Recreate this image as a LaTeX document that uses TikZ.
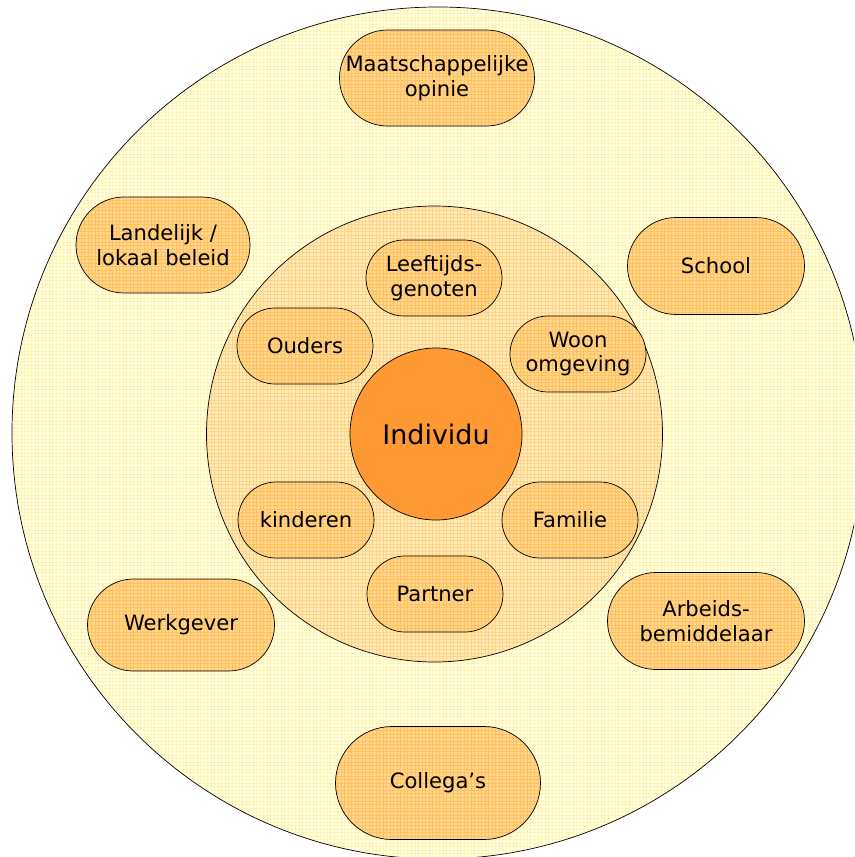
\documentclass[tikz,border=0pt]{standalone}
\usepackage{fontspec}
\setmainfont{DejaVu Sans}
\usepackage{xcolor}
\usetikzlibrary{shapes.misc,patterns}

\definecolor{outerfill}{HTML}{FFFFE2}
\definecolor{outergrid}{HTML}{FFF3B8}
\definecolor{innerfill}{HTML}{FFEBB8}
\definecolor{innergrid}{HTML}{FFD488}
\definecolor{pillfill}{HTML}{FFD690}
\definecolor{pillgrid}{HTML}{FFC25E}
\definecolor{corefill}{HTML}{FF9933}

\tikzset{
    ring/.style={circle, draw=black, line width=0.6pt, inner sep=0pt},
    pill/.style={rounded rectangle, draw=black, line width=0.6pt, align=center,
        preaction={fill=pillfill}, pattern=grid, pattern color=pillgrid,
        font=\fontsize{18}{21}\selectfont, inner sep=0pt},
    small/.style={pill, minimum width=4.08cm, minimum height=2.28cm}
}

\begin{document}
\begin{tikzpicture}[x=0.03cm, y=-0.03cm]
    \useasboundingbox (0,0) rectangle (854,857);
    \clip (0,0) rectangle (854,857);

    % Rings
    \node[ring, minimum size=25.56cm, preaction={fill=outerfill},
        pattern=grid, pattern color=outergrid] (outer) at (438,433) {};
    \node[ring, minimum size=13.68cm, preaction={fill=innerfill},
        pattern=grid, pattern color=innergrid] (inner) at (434.5,434) {};
    \node[ring, minimum size=5.16cm, fill=corefill,
        font=\fontsize{23}{27}\selectfont] (individu) at (436,434) {Individu};

    % Outer ring
    \node[pill, minimum width=5.85cm, minimum height=2.88cm] (opinie) at (437,78) {Maatschappelijke\\opinie};
    \node[pill, minimum width=5.22cm, minimum height=2.88cm] (beleid) at (163,245) {Landelijk /\\lokaal beleid};
    \node[pill, minimum width=5.31cm, minimum height=2.91cm] (school) at (716,266) {School};
    \node[pill, minimum width=5.61cm, minimum height=2.76cm] (werkgever) at (181,625) {Werkgever};
    \node[pill, minimum width=5.91cm, minimum height=2.91cm] (arbeid) at (706,621) {Arbeids-\\bemiddelaar};
    \node[pill, minimum width=6.15cm, minimum height=3.39cm] (collegas) at (438,783) {Collega’s};

    % Inner ring
    \node[small] (leeftijd) at (434,278) {Leeftijds-\\genoten};
    \node[small] (ouders) at (305,346) {Ouders};
    \node[small] (woon) at (578,354) {Woon\\omgeving};
    \node[small] (kinderen) at (306,520) {kinderen};
    \node[small] (familie) at (570,520) {Familie};
    \node[small] (partner) at (435,594) {Partner};
\end{tikzpicture}
\end{document}
